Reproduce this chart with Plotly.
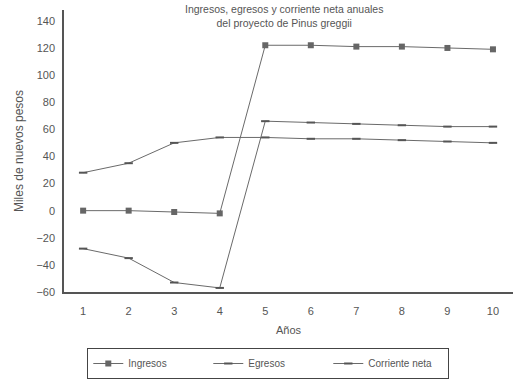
import plotly.graph_objects as go

anios = [1, 2, 3, 4, 5, 6, 7, 8, 9, 10]
ingresos = [0, 0, -1, -2, 122, 122, 121, 121, 120, 119]
egresos = [28, 35, 50, 54, 54, 53, 53, 52, 51, 50]
corriente_neta = [-28, -35, -53, -57, 66, 65, 64, 63, 62, 62]
y_ticks = [-60, -40, -20, 0, 20, 40, 60, 80, 100, 120, 140]

line_col = "#6a6a6a"
text_col = "#555555"
font = dict(family="Liberation Sans, Arial, sans-serif", size=11, color=text_col)

fig = go.Figure()
fig.add_trace(go.Scatter(x=anios, y=ingresos, name="Ingresos", mode="lines+markers",
                         line=dict(color=line_col, width=1),
                         marker=dict(symbol="square", size=6, color="#666666")))
fig.add_trace(go.Scatter(x=anios, y=egresos, name="Egresos", mode="lines+markers",
                         line=dict(color=line_col, width=1),
                         marker=dict(symbol="line-ew", size=6, line=dict(color="#555555", width=2))))
fig.add_trace(go.Scatter(x=anios, y=corriente_neta, name="Corriente neta", mode="lines+markers",
                         line=dict(color=line_col, width=1),
                         marker=dict(symbol="line-ew", size=6, line=dict(color="#555555", width=2))))

fig.update_layout(
    width=513, height=379,
    margin=dict(l=64, r=0, t=10, b=84),
    paper_bgcolor="white", plot_bgcolor="white",
    font=font,
    showlegend=True,
    legend=dict(orientation="h", x=0.455, xanchor="center", y=-0.2, yanchor="top",
                bordercolor="#444444", borderwidth=1, font=dict(size=10, color=text_col),
                entrywidth=75, entrywidthmode="pixels"),
    xaxis=dict(range=[0.58, 10.44], tickmode="array", tickvals=anios,
               showgrid=False, zeroline=False, showline=True, linecolor="#555555", linewidth=2,
               ticks="outside", ticklen=8, tickcolor="rgba(0,0,0,0)",
               tickfont=dict(size=11, color=text_col),
               title=dict(text="Años", font=dict(size=11, color=text_col), standoff=10)),
    yaxis=dict(range=[-60, 148], tickmode="array", tickvals=y_ticks,
               showgrid=False, zeroline=False, showline=True, linecolor="#555555", linewidth=1.5,
               ticks="outside", ticklen=5, tickcolor="rgba(0,0,0,0)",
               tickfont=dict(size=11, color=text_col),
               title=dict(text="Miles de nuevos pesos", font=dict(size=12, color=text_col), standoff=10)),
)
fig.add_annotation(text="Ingresos, egresos y corriente neta anuales<br>del proyecto de Pinus greggii",
                   xref="paper", yref="paper", x=0.49, y=1.033, xanchor="center", yanchor="top",
                   showarrow=False, font=dict(size=10.5, color=text_col))
fig.write_html("out.html")
